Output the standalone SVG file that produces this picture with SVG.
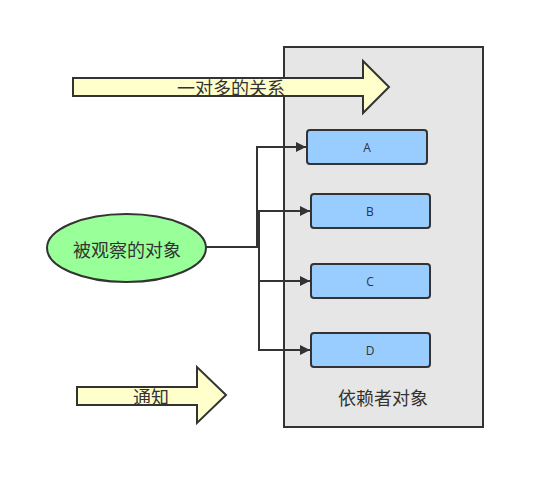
<svg xmlns="http://www.w3.org/2000/svg" width="545" height="489" viewBox="0 0 545 489">
<defs>
<style>
.big{fill:#e6e6e6;stroke:#333;stroke-width:2}
.arr{fill:#ffffcc;stroke:#333;stroke-width:2;stroke-linejoin:miter}
.node{fill:#99ccff;stroke:#333;stroke-width:2}
.ell{fill:#99ff99;stroke:#333;stroke-width:2}
.edge{fill:none;stroke:#333;stroke-width:2}
.cjk{font-family:"Noto Sans CJK SC","Liberation Sans",sans-serif;font-size:18px;fill:#333;text-anchor:middle;dominant-baseline:central}
.lbl{font-family:"Open Sans","Liberation Sans",sans-serif;font-size:12px;fill:#333;text-anchor:middle;dominant-baseline:central}
</style>
<marker id="ah" viewBox="0 0 10 10" refX="10" refY="5" markerWidth="10" markerHeight="10" markerUnits="userSpaceOnUse" orient="auto">
<path d="M0,0 L10,5 L0,10 Z" fill="#333"/>
</marker>
</defs>
<rect width="545" height="489" fill="#fff"/>
<g id="dependents">
<rect class="big" x="284" y="47" width="199" height="380"/>
<text class="cjk" x="383" y="397">依赖者对象</text>
</g>
<g id="one-to-many">
<path class="arr" d="M73,78 L363,78 L363,61 L389,87 L363,113 L363,96 L73,96 Z"/>
<text class="cjk" x="231" y="87">一对多的关系</text>
</g>
<g id="notify">
<path class="arr" d="M77,387 L197,387 L197,367 L226,395 L197,423 L197,405 L77,405 Z"/>
<text class="cjk" x="151" y="396">通知</text>
</g>
<g id="connectors">
<path class="edge" marker-end="url(#ah)" d="M206,247 L257,247 L257,147 L306,147"/>
<path class="edge" marker-end="url(#ah)" d="M206,247 L259,247 L259,211 L310,211"/>
<path class="edge" marker-end="url(#ah)" d="M206,247 L259,247 L259,281 L310,281"/>
<path class="edge" marker-end="url(#ah)" d="M206,247 L259,247 L259,350 L310,350"/>
</g>
<g id="observed">
<ellipse class="ell" cx="126.5" cy="248" rx="79.5" ry="34"/>
<text class="cjk" x="127" y="249">被观察的对象</text>
</g>
<g id="A">
<rect class="node" x="307" y="130" width="120" height="34" rx="3"/>
<text class="lbl" x="367" y="147">A</text>
</g>
<g id="B">
<rect class="node" x="311" y="194" width="119" height="34" rx="3"/>
<text class="lbl" x="370" y="211">B</text>
</g>
<g id="C">
<rect class="node" x="311" y="264" width="119" height="34" rx="3"/>
<text class="lbl" x="370" y="281">C</text>
</g>
<g id="D">
<rect class="node" x="311" y="333" width="119" height="34" rx="3"/>
<text class="lbl" x="370" y="350">D</text>
</g>
</svg>
